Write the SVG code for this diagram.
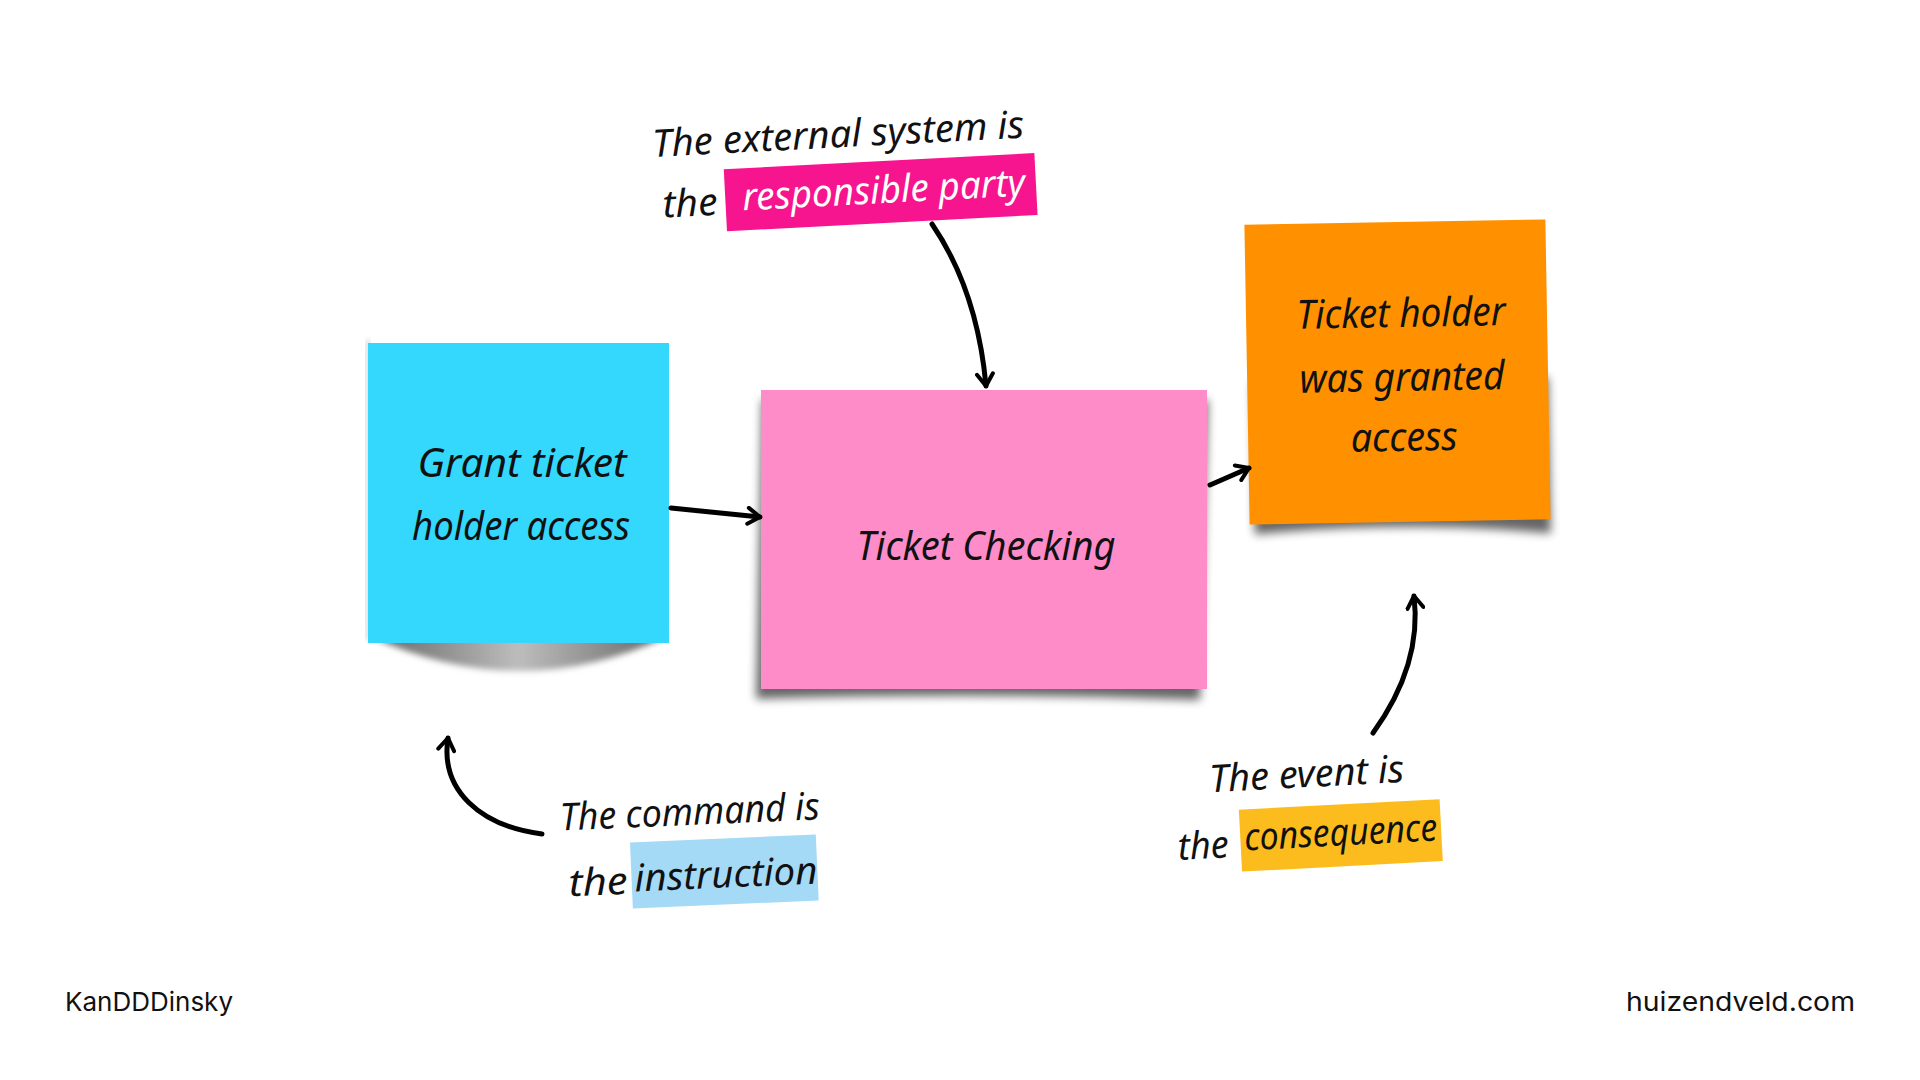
<svg xmlns="http://www.w3.org/2000/svg" width="1920" height="1080" viewBox="0 0 1920 1080">
  <defs>
    <style>
      .hand { font-family: "Noto Sans", "DejaVu Sans", sans-serif; font-style: italic; fill: #111; }
      .note { font-size: 40px; text-anchor: middle; }
      .ann { font-size: 38px; }
      .foot { font-family: Inter, "Liberation Sans", sans-serif; font-size: 26px; fill: #111; }
      .conn { fill: none; stroke: #000; stroke-width: 5; stroke-linecap: round; }
    </style>
    <marker id="arrow" viewBox="0 0 20 20" refX="16" refY="10" markerWidth="20" markerHeight="20" markerUnits="userSpaceOnUse" orient="auto">
      <path d="M4,2 L16,10 L4,18" fill="none" stroke="#000" stroke-width="4" stroke-linecap="round" stroke-linejoin="round"/>
    </marker>
    <filter id="blur" x="-20%" y="-50%" width="140%" height="200%">
      <feGaussianBlur stdDeviation="5"/>
    </filter>
    <filter id="blur2" x="-20%" y="-50%" width="140%" height="200%">
      <feGaussianBlur stdDeviation="3"/>
    </filter>
    <linearGradient id="curl" x1="0" x2="1" y1="0" y2="0">
      <stop offset="0" stop-color="#666"/>
      <stop offset="0.5" stop-color="#bdbdbd"/>
      <stop offset="1" stop-color="#666"/>
    </linearGradient>
  </defs>

  <rect width="1920" height="1080" fill="#ffffff"/>

  <!-- Command sticky -->
  <g id="command">
    <path d="M370,636 Q520,706 668,636 Z" fill="url(#curl)" filter="url(#blur2)"/>
    <rect x="366" y="340" width="4" height="300" fill="#999" filter="url(#blur2)" opacity="0.5"/>
    <rect x="368" y="343" width="301" height="300" fill="#34D8FC"/>
    <text class="hand note" x="522" y="477" textLength="209" lengthAdjust="spacingAndGlyphs">Grant ticket</text>
    <text class="hand note" x="521" y="540" textLength="218" lengthAdjust="spacingAndGlyphs">holder access</text>
  </g>

  <!-- Ticket Checking sticky -->
  <g id="external-system">
    <path d="M762,400 L756,699 Q975,692 1200,700 L1208,400 Z" fill="#000" opacity="0.6" filter="url(#blur)"/>
    <rect x="761" y="390" width="446" height="299" fill="#FE8CC8"/>
    <text class="hand note" x="986" y="560" textLength="259" lengthAdjust="spacingAndGlyphs">Ticket Checking</text>
  </g>

  <!-- Event sticky -->
  <g id="event" transform="rotate(-1 1397 372)">
    <path d="M1252,380 L1252,532 Q1400,520 1548,536 L1548,380 Z" fill="#000" opacity="0.6" filter="url(#blur)"/>
    <rect x="1247" y="222" width="301" height="300" fill="#FF9100"/>
    <text class="hand note" x="1402" y="327" textLength="209" lengthAdjust="spacingAndGlyphs">Ticket holder</text>
    <text class="hand note" x="1402" y="391" textLength="205" lengthAdjust="spacingAndGlyphs">was granted</text>
    <text class="hand note" x="1403" y="451" textLength="107" lengthAdjust="spacingAndGlyphs">access</text>
  </g>

  <!-- Annotation: external system -->
  <g id="note-external" transform="rotate(-3 845 190)">
    <text class="hand ann" x="655" y="147" textLength="372" lengthAdjust="spacingAndGlyphs">The external system is</text>
    <text class="hand ann" x="662" y="208" textLength="55" lengthAdjust="spacingAndGlyphs">the</text>
    <rect x="725" y="163" width="311" height="62" fill="#F7148F"/>
    <text class="hand ann" x="742" y="205" style="fill:#ffffff" textLength="283" lengthAdjust="spacingAndGlyphs">responsible party</text>
  </g>

  <!-- Annotation: command -->
  <g id="note-command" transform="rotate(-2.5 690 865)">
    <text class="hand ann" x="562" y="825" textLength="260" lengthAdjust="spacingAndGlyphs">The command is</text>
    <text class="hand ann" x="568" y="891" textLength="59" lengthAdjust="spacingAndGlyphs">the</text>
    <rect x="631" y="840" width="186" height="66" fill="#A5DAF7"/>
    <text class="hand ann" x="634" y="889" textLength="183" lengthAdjust="spacingAndGlyphs">instruction</text>
  </g>

  <!-- Annotation: event -->
  <g id="note-event" transform="rotate(-3 1310 830)">
    <text class="hand ann" x="1212" y="787" textLength="195" lengthAdjust="spacingAndGlyphs">The event is</text>
    <text class="hand ann" x="1177" y="853" textLength="51" lengthAdjust="spacingAndGlyphs">the</text>
    <rect x="1240" y="806" width="201" height="62" fill="#FCBC1E"/>
    <text class="hand ann" x="1244" y="847" textLength="193" lengthAdjust="spacingAndGlyphs">consequence</text>
  </g>

  <!-- Connectors -->
  <g id="connectors">
    <path class="conn" d="M932,224 C962,268 980,320 986,386" marker-end="url(#arrow)"/>
    <path class="conn" d="M671,508 L760,517" marker-end="url(#arrow)"/>
    <path class="conn" d="M1210,485 L1249,468" marker-end="url(#arrow)"/>
    <path class="conn" d="M542,834 C480,826 440,790 448,738" marker-end="url(#arrow)"/>
    <path class="conn" d="M1373,733 C1404,690 1420,645 1414,596" marker-end="url(#arrow)"/>
  </g>

  <!-- Footer -->
  <g id="footer">
    <text class="foot" x="65" y="1011" textLength="168" lengthAdjust="spacingAndGlyphs">KanDDDinsky</text>
    <text class="foot" x="1626" y="1011" textLength="229" lengthAdjust="spacingAndGlyphs">huizendveld.com</text>
  </g>
</svg>
